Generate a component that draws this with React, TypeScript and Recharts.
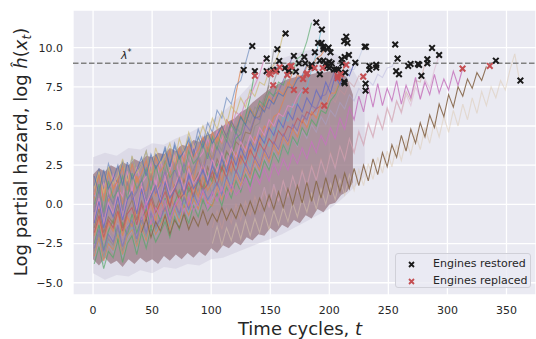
import React from "react";
import {
  ComposedChart,
  Line,
  Area,
  Scatter,
  XAxis,
  YAxis,
  CartesianGrid,
  ReferenceLine,
} from "recharts";

// engine runs sampled every STEP cycles, from the start cycle given in runStart
const STEP = 4;

const e01 = [0.5, -0.4, 1.1, 0.2, 0.9, 1.6, 0.0, 1.3, 0.4, 1.8, 0.7, 0.9, 2.0, 0.5, 1.7, 1.1, 2.3, 0.8, 1.9, 1.4, 2.6, 1.5, 2.9, 2.2, 3.6, 2.8, 4.3, 3.9, 5.4, 5.0, 7.1, 8.6];
const e02 = [1.2, 2.3, 1.0, 2.6, 1.7, 1.4, 2.8, 1.6, 3.0, 2.1, 2.5, 3.4, 2.0, 3.2, 2.6, 3.7, 2.4, 3.9, 3.0, 3.3, 4.3, 3.4, 4.8, 3.9, 5.2, 4.6, 6.0, 5.5, 6.8, 6.4, 7.6, 7.9, 9.0, 10.1];
const e03 = [-2.5, -1.3, -2.9, -1.7, -1.0, -2.4, -1.2, -2.0, -0.6, -1.8, -0.9, -0.3, -1.5, -0.2, -1.1, 0.4, -0.7, 0.1, 0.9, -0.2, 1.1, 0.4, 1.5, 0.8, 2.0, 1.4, 2.6, 2.1, 3.3, 3.0, 4.2, 4.5, 5.6, 6.8, 8.5];
const e04 = [0.8, -0.3, 1.4, 0.4, 1.9, 1.0, 0.5, 2.1, 0.9, 2.4, 1.3, 1.8, 2.6, 1.1, 2.8, 1.7, 2.2, 3.1, 1.9, 3.4, 2.5, 3.8, 2.9, 3.3, 4.2, 3.4, 4.7, 4.0, 5.3, 4.7, 5.9, 5.6, 6.6, 6.9, 7.6, 8.3, 9.3];
const e05 = [-1.5, -0.3, -1.8, -0.8, -1.2, 0.0, -1.5, -0.4, 0.3, -1.0, 0.2, -0.6, 0.7, -0.3, 0.5, 1.1, -0.1, 1.2, 0.4, 1.6, 0.8, 1.3, 2.0, 1.0, 2.4, 1.6, 2.9, 2.2, 3.4, 2.9, 4.0, 3.7, 4.6, 4.5, 5.5, 5.6, 6.6, 7.6];
const e06 = [-3.0, -1.9, -3.4, -2.2, -2.6, -1.5, -3.0, -1.8, -1.2, -2.5, -1.0, -2.1, -0.7, -1.6, -0.9, -0.2, -1.4, 0.1, -0.8, 0.5, -0.3, 0.2, 1.0, 0.0, 1.5, 0.6, 2.0, 1.2, 2.6, 1.9, 3.3, 2.7, 4.0, 3.7, 5.0, 5.2, 6.4, 7.8, 9.9];
const e07 = [1.0, 2.1, 0.7, 2.4, 1.3, 1.8, 2.9, 1.4, 3.1, 2.0, 2.5, 3.4, 1.9, 3.6, 2.6, 3.1, 3.9, 2.7, 4.2, 3.3, 4.6, 3.6, 4.1, 5.0, 4.2, 5.5, 4.8, 5.9, 5.1, 6.3, 5.8, 6.8, 6.2, 7.3, 6.9, 7.8, 7.6, 8.5, 8.9, 9.6, 10.9];
const e08 = [-0.5, 0.9, -0.8, 0.6, 0.0, 1.2, -0.4, 1.4, 0.3, 0.8, 1.6, 0.2, 1.8, 0.7, 1.2, 2.1, 0.9, 2.3, 1.4, 2.6, 1.6, 2.2, 3.0, 2.0, 3.3, 2.6, 3.7, 3.0, 4.1, 3.5, 4.6, 4.0, 5.1, 4.7, 5.6, 5.4, 6.3, 6.1, 7.0, 7.2, 7.9, 8.6, 9.5];
const e09 = [-2.0, -0.9, -2.3, -1.2, -1.7, -0.5, -2.0, -0.8, -1.4, -0.2, -1.6, -0.6, 0.1, -1.1, 0.3, -0.5, 0.7, -0.3, 0.4, 1.0, -0.1, 1.3, 0.5, 1.8, 0.9, 1.4, 2.3, 1.5, 2.8, 2.1, 3.3, 2.6, 3.7, 3.2, 4.3, 3.9, 5.0, 4.7, 5.6, 5.8, 6.6, 7.5, 8.5];
const e10 = [-1.0, 0.4, -1.3, 0.1, -0.6, 0.8, -0.9, 0.5, 1.0, -0.4, 1.2, 0.0, 0.7, 1.5, 0.2, 1.7, 0.6, 1.1, 2.0, 0.9, 2.3, 1.3, 1.8, 2.6, 1.6, 2.9, 2.1, 3.3, 2.5, 3.6, 3.0, 4.0, 3.4, 4.4, 3.9, 4.9, 4.4, 5.4, 5.0, 5.8, 5.6, 6.3, 6.2, 6.9, 7.3];
const e11 = [0.0, 1.3, -0.5, 1.5, 0.4, 0.9, 1.8, 0.3, 2.0, 1.0, 1.5, 2.3, 0.9, 2.5, 1.4, 2.8, 1.7, 2.2, 3.1, 2.0, 3.4, 2.6, 3.0, 3.9, 2.9, 4.3, 3.5, 4.7, 4.0, 5.1, 4.5, 5.6, 5.1, 6.1, 5.6, 6.6, 6.3, 7.2, 6.9, 7.8, 7.6, 8.5, 8.4, 9.3, 9.5, 10.4, 11.6];
const e12 = [-3.2, -2.1, -3.5, -2.4, -2.9, -1.8, -3.2, -2.0, -1.5, -2.7, -1.3, -2.2, -0.9, -1.8, -1.2, -0.5, -1.5, -0.2, -0.9, 0.1, -0.5, 0.6, -0.1, 1.0, 0.3, 0.8, 1.5, 0.6, 2.0, 1.2, 2.5, 1.8, 3.0, 2.4, 3.6, 3.0, 4.2, 3.7, 4.9, 4.5, 5.6, 5.3, 6.4, 6.3, 7.3, 7.5, 8.6, 9.6, 11.1];
const e13 = [-1.8, -0.7, -2.1, -1.0, -1.5, -0.4, -1.7, -0.6, -0.2, -1.3, 0.0, -0.9, 0.4, -0.5, 0.1, 0.8, -0.2, 1.0, 0.3, 0.7, 1.4, 0.5, 1.7, 0.9, 1.3, 2.1, 1.2, 2.4, 1.7, 2.8, 2.0, 3.1, 2.5, 3.5, 2.9, 3.9, 3.4, 4.2, 3.8, 4.7, 4.3, 5.0, 4.8, 5.5, 5.2, 5.9, 5.7, 6.1, 6.3];
const e14 = [0.6, 1.9, 0.2, 2.1, 1.0, 1.5, 2.4, 0.9, 2.6, 1.4, 2.0, 2.8, 1.5, 3.0, 2.1, 2.6, 3.4, 2.2, 3.6, 2.7, 3.9, 3.0, 3.5, 4.3, 3.4, 4.6, 3.9, 5.0, 4.3, 5.3, 4.8, 5.7, 5.2, 6.1, 5.6, 6.4, 6.0, 6.9, 6.5, 7.3, 7.0, 7.8, 7.5, 8.3, 8.0, 8.8, 8.7, 9.3, 9.5, 10.0];
const e15 = [-2.8, -1.6, -3.0, -1.9, -2.4, -1.3, -2.7, -1.5, -1.0, -2.2, -0.8, -1.8, -0.5, -1.4, -0.9, -0.2, -1.1, 0.1, -0.6, 0.4, -0.3, 0.7, 0.0, 1.0, 0.3, 0.8, 1.4, 0.6, 1.8, 1.0, 2.2, 1.5, 2.6, 1.9, 3.0, 2.4, 3.5, 2.9, 4.0, 3.5, 4.5, 4.0, 5.1, 4.7, 5.7, 5.4, 6.3, 6.1, 6.9, 7.0, 7.8, 8.6];
const e16 = [-1.2, 0.2, -1.5, -0.1, -0.8, 0.5, -1.0, 0.3, 0.8, -0.6, 1.0, -0.2, 0.5, 1.2, 0.1, 1.4, 0.4, 0.9, 1.7, 0.6, 1.9, 1.0, 1.5, 2.2, 1.3, 2.5, 1.7, 2.9, 2.1, 3.2, 2.5, 3.6, 2.9, 4.0, 3.4, 4.4, 3.9, 4.9, 4.4, 5.4, 4.9, 5.9, 5.4, 6.4, 5.9, 6.8, 6.3, 7.3, 6.7, 7.8, 7.1, 8.2, 7.6, 8.5, 8.2, 9.0];
const e17 = [-3.5, -2.4, -3.8, -2.6, -3.1, -2.0, -3.4, -2.2, -1.7, -3.0, -1.5, -2.5, -1.2, -2.1, -1.5, -0.8, -1.8, -0.5, -1.3, -0.2, -0.9, 0.2, -0.5, 0.6, -0.1, 0.4, 1.1, 0.3, 1.5, 0.8, 2.0, 1.3, 2.4, 1.8, 2.9, 2.3, 3.4, 2.8, 3.9, 3.4, 4.4, 3.9, 5.0, 4.5, 5.5, 5.1, 6.1, 5.7, 6.7, 6.4, 7.3, 7.0, 7.9, 7.8, 8.6, 8.6, 9.3, 10.1];
const e18 = [-3.8, -2.7, -4.1, -3.0, -3.4, -2.3, -3.7, -2.5, -2.0, -3.2, -1.8, -2.8, -1.5, -2.4, -1.8, -1.1, -2.1, -0.8, -1.6, -0.5, -1.2, -0.1, -0.8, 0.3, -0.4, 0.0, 0.7, -0.1, 1.1, 0.4, 1.5, 0.8, 1.9, 1.2, 2.3, 1.7, 2.8, 2.2, 3.3, 2.7, 3.8, 3.2, 4.3, 3.8, 4.9, 4.4, 5.4, 5.0, 6.0, 5.8, 6.6, 7.0, 7.8];
const e19 = [-2.2, -1.1, -2.5, -1.4, -1.9, -0.8, -2.2, -1.0, -0.6, -1.7, -0.4, -1.3, -0.1, -1.0, -0.5, 0.2, -0.8, 0.5, -0.3, 0.7, 0.0, 1.0, 0.3, 1.3, 0.6, 0.4, 1.6, 0.8, 2.0, 1.2, 2.4, 1.6, 2.8, 2.1, 3.2, 2.5, 3.7, 3.0, 4.1, 3.5, 4.6, 4.0, 5.0, 4.5, 5.5, 5.0, 6.0, 5.5, 6.4, 6.0, 6.9, 6.5, 7.3, 7.0, 7.8, 7.5, 8.2, 8.0, 8.5, 8.8];
const e20 = [-2.6, -1.5, -2.9, -1.8, -2.3, -1.2, -2.6, -1.4, -1.0, -2.1, -0.8, -1.7, -0.5, -1.4, -0.9, -0.2, -1.2, 0.0, -0.7, 0.3, -0.4, 0.6, -0.1, 0.9, 0.2, 0.0, 1.2, 0.4, 1.5, 0.8, 1.9, 1.1, 2.2, 1.5, 2.6, 1.9, 3.0, 2.3, 3.4, 2.8, 3.8, 3.2, 4.2, 3.7, 4.7, 4.2, 5.1, 4.6, 5.6, 5.1, 6.0, 5.6, 6.5, 6.1, 7.0, 6.6, 7.4, 7.1, 7.9, 7.6, 8.3, 8.1, 8.7, 8.8, 9.3];
const e21 = [-1.0, 0.2, -1.3, -0.2, -0.8, 0.3, -1.0, -0.1, 0.4, -0.8, 0.5, -0.4, 0.1, 0.9, -0.3, 0.8, 0.2, 1.1, 0.4, 1.3, 0.6, 1.0, 1.7, 0.8, 1.9, 1.3, 2.3, 1.5, 2.6, 1.9, 2.9, 2.2, 3.2, 2.6, 3.6, 2.9, 4.0, 3.3, 4.4, 3.8, 4.9, 4.2, 5.5, 4.8, 6.2, 5.4, 6.9, 5.9, 7.5, 6.2, 7.7, 6.3, 7.4, 6.6, 7.9, 6.4, 7.6, 6.8, 8.1, 6.7, 7.8, 7.0, 8.3, 7.1, 8.0, 7.3, 8.5, 7.6, 8.7];
const e22 = [-1.8, -0.9, -2.1, -1.1, -1.7, -0.7, -1.9, -1.0, -1.5, -0.6, -1.6, -0.8, -1.4, -0.4, -1.3, -0.6, -1.1, -0.2, -1.0, -0.3, -0.9, 0.0, -0.7, 0.2, -0.6, 0.4, -0.4, 0.6, -0.3, 0.8, -0.2, 1.0, 0.0, 1.2, 0.1, 1.4, 0.2, 1.5, 0.4, 1.7, 0.6, 1.9, 0.8, 2.0, 1.0, 2.3, 1.2, 2.5, 1.5, 2.9, 1.9, 3.3, 2.4, 3.8, 3.0, 4.4, 3.4, 4.8, 3.9, 5.2, 4.3, 5.7, 4.9, 6.4, 5.6, 7.0, 6.2, 7.5, 6.9, 8.0, 7.4, 8.4, 7.9, 8.8];
const e23 = [-2.5, -1.4, -2.6, -1.5, -2.3, -1.2, -2.2, -1.0, -2.0, -0.9, -1.8, -0.6, -1.6, -0.4, -1.3, -0.2, -1.1, 0.1, -0.8, 0.4, -0.5, 0.7, -0.3, 1.0, 0.0, 1.3, 0.3, 1.6, 0.6, 1.9, 0.9, 2.2, 1.2, 2.6, 1.6, 3.0, 2.0, 3.4, 2.4, 3.8, 2.8, 4.1, 3.2, 4.5, 3.5, 4.9, 3.9, 5.3, 4.3, 5.6, 4.6, 6.0, 5.0, 6.4, 5.4, 6.8, 5.8, 7.2, 6.3, 7.5, 6.8, 7.9, 7.3, 8.6, 9.6, 7.9];
const e24 = [-1.5, -0.4, -1.6, -0.3, -1.2, 0.0, -1.0, 0.2, -0.7, 0.5, -0.4, 0.8, -0.1, 1.1, 0.2, 1.5, 0.5, 1.8, 0.9, 2.2, 1.2, 2.5, 1.6, 2.9, 2.0, 3.3, 2.4, 3.7, 2.9, 4.2, 3.3, 4.6, 3.8, 5.1, 4.3, 5.6, 4.8, 6.1, 5.3, 6.6, 5.9, 7.2, 6.6, 7.9, 7.8, 9.0];
const e25 = [1.8, 0.7, 2.2, 1.0, 1.6, 2.5, 1.2, 2.7, 1.6, 2.2, 3.0, 1.8, 3.2, 2.3, 2.8, 3.5, 2.4, 3.7, 2.9, 3.4, 4.1, 3.1, 4.3, 3.6, 4.6, 3.9, 4.4, 5.0, 4.3, 5.3, 4.7, 5.6, 5.1, 6.0, 5.5, 6.3, 5.9, 6.7, 6.4, 7.1, 6.9, 7.5, 7.4, 8.0, 8.2, 8.9];
const e26 = [-3.3, -2.1, -3.6, -2.5, -2.9, -1.9, -3.2, -2.0, -1.6, -2.7, -1.4, -2.3, -1.0, -1.9, -1.3, -0.6, -1.6, -0.3, -1.1, 0.0, -0.7, 0.4, -0.3, 0.8, 0.1, -0.1, 1.1, 0.3, 1.5, 0.8, 1.9, 1.2, 2.3, 1.7, 2.8, 2.2, 3.3, 2.7, 3.8, 3.2, 4.3, 3.8, 4.8, 4.3, 5.4, 4.9, 5.9, 5.5, 6.5, 6.2, 7.1, 7.1, 7.9, 8.9];
const e27 = [-0.2, 1.0, -0.6, 0.7, 0.1, 1.3, -0.3, 1.5, 0.5, 0.9, 1.8, 0.4, 2.0, 1.0, 1.5, 2.3, 1.1, 2.6, 1.6, 2.1, 2.9, 1.9, 3.2, 2.4, 3.6, 2.9, 4.0, 3.4, 4.5, 3.9, 5.0, 4.5, 5.6, 5.2, 6.2, 6.0, 6.9, 7.0, 7.8, 8.7];
const e28 = [0.0, 1.1, -0.2, 1.3, 0.2, 1.5, 0.5, 1.8, 0.8, 2.1, 1.1, 2.4, 1.5, 2.8, 1.9, 3.2, 2.3, 3.7, 2.8, 4.2, 3.3, 4.7, 3.8, 5.2, 4.3, 5.7, 4.8, 6.2, 5.3, 6.6, 5.8, 7.0, 6.3, 7.5, 6.8, 8.0, 7.4, 8.6, 9.5];

// drawing order: faint long runs first, prominent long runs last
const engineRuns = [e23, e24, e28, e20, e19, e17, e01, e03, e05, e06, e09, e12, e13, e15, e18, e26, e02, e04, e07, e08, e10, e11, e14, e16, e25, e27, e21, e22];
const runStart = [101, 101, 141, 1, 1, 1, 1, 1, 1, 1, 1, 1, 1, 1, 1, 1, 1, 1, 1, 1, 1, 1, 1, 1, 1, 1, 41, 41];
const runColors = ["#dcc8ae", "#c99a94", "#d9a7c6", "#a9a8d8", "#c8939a", "#9fb1d6", "#dd8452", "#55a868", "#937860", "#8c8c8c", "#dd8452", "#64b5cd", "#c44e52", "#8172b3", "#55a868", "#dd8452", "#4c72b0", "#da8bc3", "#ccb974", "#8172b3", "#da8bc3", "#55a868", "#dd8452", "#6a6fbf", "#4c72b0", "#8c8c8c", "#c574bd", "#8a6b50"];
const runOpacity = [0.5, 0.5, 0.45, 0.4, 0.45, 0.35, 0.75, 0.75, 0.75, 0.65, 0.75, 0.65, 0.65, 0.75, 0.7, 0.75, 0.55, 0.8, 0.7, 0.75, 0.8, 0.65, 0.75, 0.85, 0.65, 0.6, 0.85, 0.95];

// dense bundle of the remaining engines
const coreT = [0, 5, 10, 15, 20, 25, 30, 35, 40, 45, 50, 55, 60, 65, 70, 75, 80, 85, 90, 95, 100, 105, 110, 115, 120, 125, 130, 135, 140, 145, 150, 155, 160, 165, 170, 175, 180, 185, 190, 195, 200, 205, 210, 215, 220];
const coreLo = [-3.5, -3.9, -3.4, -3.8, -3.6, -4.0, -3.5, -3.8, -3.4, -3.7, -3.5, -3.8, -3.3, -3.6, -3.2, -3.5, -3.1, -3.4, -3.0, -3.3, -2.8, -3.1, -2.6, -2.8, -2.4, -2.6, -2.1, -2.3, -1.9, -2.0, -1.5, -1.8, -1.3, -1.5, -1.0, -1.2, -0.7, -0.9, -0.3, -0.5, 0.0, 0.1, 0.6, 0.8, 1.4];
const coreHi = [1.9, 2.3, 2.1, 2.5, 2.3, 2.7, 2.5, 2.9, 2.7, 3.1, 3.0, 3.3, 3.2, 3.6, 3.4, 3.8, 3.7, 4.1, 4.0, 4.4, 4.5, 4.8, 5.0, 5.3, 5.5, 5.9, 6.1, 6.5, 6.8, 7.1, 7.4, 7.6, 7.8, 8.0, 8.1, 8.2, 8.3, 8.3, 8.4, 8.4, 8.5, 8.4, 8.4, 8.1, 7.0];
const outerT = [0, 10, 20, 30, 40, 50, 60, 70, 80, 90, 100, 110, 120, 130, 140, 150, 160, 170, 180, 190, 200, 210, 220, 230];
const outerLo = [-4.4, -4.8, -4.5, -4.6, -4.2, -4.4, -4.0, -4.1, -3.8, -3.9, -3.5, -3.4, -3.1, -2.8, -2.5, -2.2, -1.9, -1.5, -1.1, -0.7, -0.3, 0.3, 1.0, 1.8];
const outerHi = [3.0, 3.3, 3.1, 3.6, 3.5, 3.9, 3.8, 4.2, 4.5, 4.9, 5.3, 5.9, 6.6, 7.4, 8.2, 8.9, 9.3, 9.6, 9.8, 9.9, 9.8, 9.4, 8.6, 7.2];

const restored = [
  [127.5, 8.58], [134.8, 10.1], [137, 8.5], [147, 9.3], [147, 8.5], [152.5, 8.58], [155.4, 8.58], [156, 9.9],
  [157.6, 9.15], [162.4, 8.7], [163, 10.9], [165.2, 8.5], [166, 8.55], [170, 9.47], [171.7, 8.47], [174.3, 9.0],
  [178.8, 9.4], [179.6, 9.0], [185, 8.9], [185, 8.75], [187.8, 9.7], [189, 11.6], [190.6, 10.3], [192, 9.17],
  [192, 8.3], [193.5, 10.3], [193.7, 11.15], [195, 10.06], [195, 9.9], [195, 9.17], [197, 9.0], [198, 8.8],
  [199.4, 10.0], [200, 9.1], [200, 8.7], [201, 9.7], [202, 9.0], [204, 8.6], [206, 8.6], [208, 8.6],
  [210.4, 9.26], [211, 9.0], [212.6, 10.4], [212.6, 7.83], [213, 7.73], [213, 9.4], [213.5, 8.4], [214.3, 10.7],
  [215.4, 10.3], [216.6, 9.53], [222, 9.04], [230, 10.06], [231, 10.06], [230.7, 7.7], [230.7, 7.26], [234, 8.83],
  [234, 8.6], [239.7, 8.9], [239.7, 8.73], [255.8, 10.2], [257.8, 9.3], [256.6, 8.5], [259, 8.3], [266.8, 8.83],
  [268.8, 8.96], [275, 8.96], [276, 8.9], [278, 8.2], [283, 9.26], [283, 9.0], [287, 9.98], [293, 9.53],
  [341, 9.17], [361.8, 7.9],
];
const replaced = [
  [137, 8.2], [149, 8.4], [150.3, 8.3], [152.5, 7.6], [154.8, 8.47], [158, 8.75], [164.4, 8.26], [167, 8.8],
  [168, 8.83], [170, 7.3], [177.8, 8.0], [180, 7.26], [180.5, 8.3], [181.3, 8.37], [187.5, 8.7], [194.4, 8.7],
  [195.7, 6.3], [207, 8.2], [207, 8.05], [209.6, 8.3], [214.3, 8.9], [228.7, 8.15], [312.8, 8.66], [335.9, 8.83],
];

const xTicks = [0, 50, 100, 150, 200, 250, 300, 350];
const yTicks = [-5, -2.5, 0, 2.5, 5, 7.5, 10];
const lambdaStar = 9;

const runSeries = engineRuns.map((vals, i) => vals.map((v, k) => ({ t: runStart[i] + k * STEP, v })));
const outerBand = outerT.map((t, i) => ({ t, r: [outerLo[i], outerHi[i]] }));
const coreBand = coreT.map((t, i) => ({ t, r: [coreLo[i], coreHi[i]] }));
const restoredPts = restored.map(([t, y]) => ({ t, y }));
const replacedPts = replaced.map(([t, y]) => ({ t, y }));

const FONT = "DejaVu Sans, sans-serif";
const TXT = "#262626";

const cross = (color: string) => (props: any) => {
  const { cx, cy } = props;
  const s = 2.8;
  return (
    <path
      d={`M${cx - s},${cy - s}L${cx + s},${cy + s}M${cx - s},${cy + s}L${cx + s},${cy - s}`}
      stroke={color}
      strokeWidth={2}
      fill="none"
    />
  );
};

const fmt = (v: number) => v.toFixed(1).replace("-", "\u2212");

const YLabel = () => (
  <text transform="translate(27,152) rotate(-90)" textAnchor="middle" fontFamily={FONT} fontSize={18} fill={TXT}>
    Log partial hazard, log <tspan fontStyle="italic">ĥ</tspan>(<tspan fontStyle="italic">x</tspan>
    <tspan fontStyle="italic" fontSize={12} dy={4}>t</tspan>
    <tspan dy={-4}>)</tspan>
  </text>
);

const XLabel = () => (
  <text x={300} y={335} textAnchor="middle" fontFamily={FONT} fontSize={18} fill={TXT}>
    Time cycles, <tspan fontStyle="italic">t</tspan>
  </text>
);

const LambdaLabel = () => (
  <text x={121} y={59} fontFamily={FONT} fontSize={11} fill={TXT}>
    <tspan fontStyle="italic">λ</tspan>
    <tspan fontSize={8} dy={-4}>*</tspan>
  </text>
);

const LegendBox = () => (
  <div
    style={{
      position: "absolute",
      left: 395,
      top: 253,
      width: 136,
      height: 35,
      background: "rgba(234,234,242,0.8)",
      border: "1px solid #d0d0d8",
      borderRadius: 3,
      fontFamily: FONT,
      fontSize: 11,
      color: TXT,
      boxSizing: "border-box",
    }}
  >
    {[
      ["Engines restored", "#1a1a1a", 4],
      ["Engines replaced", "#c44e52", 21],
    ].map(([label, color, top]) => (
      <div key={label as string} style={{ position: "absolute", left: 0, top: top as number, height: 14, whiteSpace: "nowrap" }}>
        <svg width={30} height={14} style={{ position: "absolute", left: 10, top: 0 }}>
          <path d="M3,4L8,9M3,9L8,4" stroke={color as string} strokeWidth={1.8} />
        </svg>
        <span style={{ position: "absolute", left: 37, top: -1, lineHeight: "14px" }}>{label}</span>
      </div>
    ))}
  </div>
);

export default function App() {
  return (
    <div style={{ position: "absolute", left: 0, top: 0, width: 536, height: 339, background: "#fff" }}>
      <ComposedChart width={536} height={339} margin={{ top: 10, right: 0, bottom: 14, left: 0 }}>
        <CartesianGrid stroke="#ffffff" strokeWidth={1.3} fill="#eaeaf2" fillOpacity={1} />
        <XAxis
          dataKey="t"
          type="number"
          domain={[-17, 375]}
          ticks={xTicks}
          allowDataOverflow
          axisLine={false}
          tickLine={false}
          tickSize={0}
          tickMargin={11}
          height={30}
          tick={{ fill: TXT, fontSize: 11, fontFamily: FONT }}
        />
        <YAxis
          type="number"
          domain={[-5.78, 12.4]}
          ticks={yTicks}
          allowDataOverflow
          axisLine={false}
          tickLine={false}
          tickSize={0}
          tickMargin={10}
          width={73}
          tickFormatter={fmt}
          tick={{ fill: TXT, fontSize: 11, fontFamily: FONT }}
        />
        <Area data={outerBand} dataKey="r" type="linear" stroke="none" fill="#c9c3d6" fillOpacity={0.4} isAnimationActive={false} />
        <Area data={coreBand} dataKey="r" type="linear" stroke="none" fill="#97747f" fillOpacity={0.72} isAnimationActive={false} />
        {runSeries.map((d, i) => (
          <Line
            key={i}
            data={d}
            dataKey="v"
            type="linear"
            stroke={runColors[i]}
            strokeOpacity={runOpacity[i]}
            strokeWidth={1.1}
            dot={false}
            activeDot={false}
            isAnimationActive={false}
          />
        ))}
        <ReferenceLine y={lambdaStar} stroke="#808080" strokeWidth={1.6} strokeDasharray="5.5 2.5" />
        <Scatter data={restoredPts} dataKey="y" shape={cross("#1a1a1a")} isAnimationActive={false} />
        <Scatter data={replacedPts} dataKey="y" shape={cross("#c44e52")} isAnimationActive={false} />
      </ComposedChart>
      <svg width={536} height={339} style={{ position: "absolute", left: 0, top: 0, pointerEvents: "none" }}>
        <YLabel />
        <XLabel />
        <LambdaLabel />
      </svg>
      <LegendBox />
    </div>
  );
}
